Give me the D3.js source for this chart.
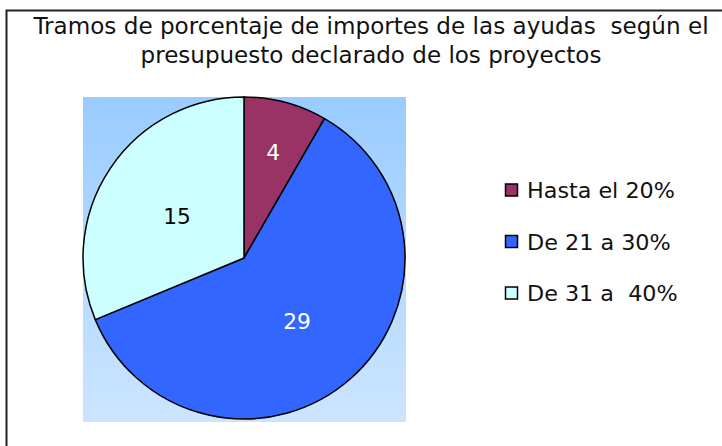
<!DOCTYPE html>
<html>
<head>
<meta charset="utf-8">
<script src="https://cdn.jsdelivr.net/npm/d3@7"></script>
<style>
  body { margin: 0; background: #fff; }
  text { font-family: "Liberation Sans", Arial, sans-serif; }
</style>
</head>
<body>
<script>
const titleLines = ['Tramos de porcentaje de importes de las ayudas  según el', 'presupuesto declarado de los proyectos']
const categories = ['Hasta el 20%', 'De 21 a 30%', 'De 31 a  40%']
const values = [4, 29, 15]
const colors = ['#993366', '#3366FF', '#CCFFFF']
const labelColors = ['#ffffff', '#ffffff', '#000000']

const width = 722
const height = 446
// the original font runs wider than Arial
const stretch = 1.13

const svg = d3.select('body')
	.append('svg')
	.attr('width', width)
	.attr('height', height)

// measure in Arial metrics, then draw in a Tahoma-like face at that width
const widen = sel => sel.each(function () {
	const len = this.getComputedTextLength()
	d3.select(this)
		.attr('textLength', len * stretch)
		.attr('lengthAdjust', 'spacingAndGlyphs')
		.style('font-family', '"DejaVu Sans", Verdana, sans-serif')
})

const defs = svg.append('defs')
const grad = defs.append('linearGradient')
	.attr('id', 'plotbg')
	.attr('x1', 0).attr('y1', 0).attr('x2', 0).attr('y2', 1)
grad.append('stop').attr('offset', '0%').attr('stop-color', '#99CCFF')
grad.append('stop').attr('offset', '100%').attr('stop-color', '#CCE5FF')

// chart area border (right/bottom run off the picture)
svg.append('rect')
	.attr('x', 6.5).attr('y', 10.5)
	.attr('width', 740).attr('height', 460)
	.attr('fill', '#fff')
	.attr('stroke', '#222')
	.attr('stroke-width', 2)

// plot area
svg.append('rect')
	.attr('x', 83).attr('y', 97)
	.attr('width', 323).attr('height', 325)
	.attr('fill', 'url(#plotbg)')

// title
svg.selectAll('text.title')
	.data(titleLines)
	.enter()
	.append('text')
	.attr('class', 'title')
	.attr('x', 371)
	.attr('y', (d, i) => 34 + i * 29)
	.attr('text-anchor', 'middle')
	.attr('font-size', 23)
	.attr('fill', '#111')
	.style('white-space', 'pre')
	.text(d => d)
	.call(widen)

const cx = 244
const cy = 258
const r = 161

const pie = d3.pie().sort(null).value(d => d)
const arcs = pie(values)
const arc = d3.arc().innerRadius(0).outerRadius(r)

const g = svg.append('g').attr('transform', `translate(${cx},${cy})`)

g.selectAll('path')
	.data(arcs)
	.enter()
	.append('path')
	.attr('d', arc)
	.attr('fill', (d, i) => colors[i])
	.attr('stroke', '#000')
	.attr('stroke-width', 1.5)
	.attr('stroke-linejoin', 'round')

// small slices get their label pushed outward, like Excel does
const labelArc = d => {
	const span = d.endAngle - d.startAngle
	const rr = span < Math.PI / 4 ? r * 0.7 : r * 0.5
	return d3.arc().innerRadius(rr).outerRadius(rr).centroid(d)
}

g.selectAll('text.lbl')
	.data(arcs)
	.enter()
	.append('text')
	.attr('class', 'lbl')
	.attr('x', d => labelArc(d)[0])
	.attr('y', d => labelArc(d)[1] + 3)
	.attr('dy', '0.36em')
	.attr('text-anchor', 'middle')
	.attr('font-size', 22)
	.attr('fill', (d, i) => labelColors[i])
	.text(d => d.data)
	.call(widen)

// legend
const legend = svg.append('g')
const rowY = d3.scaleLinear().domain([0, 2]).range([190, 293])

legend.selectAll('rect')
	.data(categories)
	.enter()
	.append('rect')
	.attr('x', 505.5)
	.attr('y', (d, i) => rowY(i) - 6)
	.attr('width', 12)
	.attr('height', 12)
	.attr('fill', (d, i) => colors[i])
	.attr('stroke', '#000')
	.attr('stroke-width', 1.5)

legend.selectAll('text')
	.data(categories)
	.enter()
	.append('text')
	.attr('x', 527)
	.attr('y', (d, i) => rowY(i) + 8)
	.attr('font-size', 22)
	.attr('fill', '#111')
	.style('white-space', 'pre')
	.text(d => d)
	.call(widen)
</script>
</body>
</html>
